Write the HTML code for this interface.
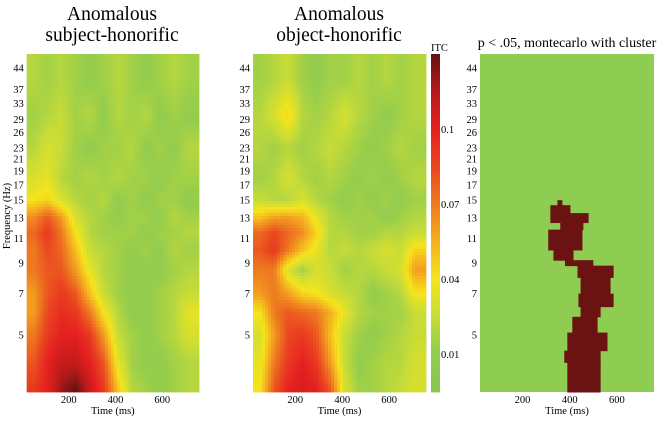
<!DOCTYPE html>
<html><head><meta charset="utf-8"><style>
html,body{margin:0;padding:0;background:#fff;}
svg{display:block;font-family:"Liberation Serif",serif;}
</style></head><body>
<svg id="chart" width="669" height="421" viewBox="0 0 669 421">
<text x="112" y="20" font-size="19.5" text-anchor="middle">Anomalous</text>
<text x="112" y="41" font-size="19.5" text-anchor="middle">subject-honorific</text>
<text x="339" y="20" font-size="19.5" text-anchor="middle">Anomalous</text>
<text x="339" y="41" font-size="19.5" text-anchor="middle">object-honorific</text>
<text x="567" y="47" font-size="14" text-anchor="middle">p &lt; .05, montecarlo with cluster</text>
<text x="431" y="51" font-size="10.5">ITC</text>
<text transform="translate(10,216) rotate(-90)" font-size="10.5" text-anchor="middle">Frequency (Hz)</text>
<g id="layer"></g>
</svg>
<script>
const timeCenters=[50,110,170,230,290,350,410,470,530,590,650,710];
const freqRows=[3.2,4,5,6,7,8.5,10,11.5,13,15,18,23,30,40];
const subjectITC=[
[0.09,0.10,0.12,0.13,0.11,0.09,0.05,0.02,0.015,0.01,0.015,0.02],
[0.08,0.10,0.11,0.11,0.10,0.08,0.035,0.015,0.01,0.01,0.015,0.02],
[0.07,0.09,0.10,0.10,0.09,0.06,0.025,0.015,0.01,0.015,0.02,0.03],
[0.06,0.085,0.095,0.09,0.07,0.04,0.02,0.01,0.01,0.015,0.02,0.035],
[0.06,0.08,0.09,0.08,0.05,0.025,0.015,0.01,0.01,0.015,0.02,0.025],
[0.07,0.08,0.08,0.06,0.035,0.02,0.015,0.01,0.01,0.01,0.015,0.02],
[0.07,0.085,0.075,0.05,0.025,0.02,0.015,0.01,0.015,0.01,0.02,0.015],
[0.075,0.09,0.07,0.04,0.02,0.015,0.015,0.015,0.01,0.015,0.015,0.02],
[0.065,0.08,0.06,0.03,0.02,0.015,0.01,0.015,0.015,0.01,0.02,0.015],
[0.04,0.045,0.03,0.02,0.015,0.02,0.01,0.015,0.01,0.015,0.015,0.01],
[0.03,0.035,0.02,0.015,0.02,0.015,0.02,0.015,0.015,0.01,0.015,0.015],
[0.02,0.03,0.025,0.015,0.01,0.015,0.015,0.02,0.01,0.015,0.01,0.02],
[0.015,0.02,0.025,0.015,0.02,0.01,0.02,0.015,0.02,0.01,0.015,0.01],
[0.02,0.015,0.02,0.015,0.01,0.015,0.02,0.015,0.01,0.015,0.02,0.015]];
const objectITC=[
[0.04,0.08,0.10,0.105,0.10,0.08,0.03,0.015,0.015,0.02,0.025,0.03],
[0.035,0.07,0.09,0.10,0.09,0.06,0.025,0.01,0.015,0.02,0.02,0.03],
[0.03,0.06,0.085,0.09,0.08,0.05,0.025,0.015,0.01,0.015,0.02,0.025],
[0.04,0.07,0.08,0.075,0.07,0.055,0.035,0.02,0.015,0.015,0.015,0.025],
[0.06,0.07,0.06,0.045,0.04,0.03,0.025,0.02,0.01,0.015,0.02,0.04],
[0.07,0.07,0.03,0.015,0.03,0.025,0.015,0.02,0.02,0.025,0.03,0.06],
[0.08,0.09,0.07,0.05,0.035,0.02,0.025,0.02,0.025,0.03,0.025,0.045],
[0.075,0.085,0.075,0.065,0.045,0.02,0.02,0.015,0.015,0.02,0.02,0.025],
[0.05,0.06,0.06,0.055,0.035,0.02,0.015,0.015,0.015,0.01,0.015,0.02],
[0.025,0.02,0.02,0.03,0.02,0.015,0.01,0.015,0.01,0.015,0.01,0.015],
[0.015,0.02,0.03,0.02,0.015,0.02,0.015,0.01,0.015,0.01,0.015,0.02],
[0.02,0.015,0.02,0.015,0.02,0.025,0.02,0.015,0.01,0.015,0.02,0.015],
[0.02,0.03,0.045,0.02,0.015,0.02,0.03,0.02,0.015,0.01,0.015,0.02],
[0.015,0.02,0.025,0.015,0.01,0.015,0.015,0.02,0.015,0.02,0.015,0.02]];
// cluster: [fLow,fHigh,tStart,tEnd]
const clusterBands=[[14.4,15.0,348,369],[13.5,14.4,318,403],[12.5,13.5,318,480],[11.8,12.5,360,458],[10.0,11.8,309,454],[9.2,10.0,331,416],[8.8,9.2,380,500],[8.0,8.8,433,586],[7.0,8.0,446,573],[6.3,7.0,437,586],[5.8,6.3,446,531],[5.1,5.8,411,518],[4.4,5.1,390,560],[4.0,4.4,377,531],[3.0,4.0,390,531]];
const yTicks=[5,7,9,11,13,15,17,19,21,23,26,29,33,37,44];
const xTicks=[200,400,600];
const cbTicks=[0.01,0.04,0.07,0.1];

const NS="http://www.w3.org/2000/svg";
const layer=document.getElementById('layer');
const top0=54,bot0=392,T0=20,T1=757,cmax=0.13;
const yOf=f=>335-122.7*Math.log(f/5);
const fOf=y=>5*Math.exp((335-y)/122.7);
const stops=[[0,[138,200,82]],[0.012,[150,205,76]],[0.025,[200,220,55]],[0.04,[245,228,28]],[0.055,[245,175,32]],[0.07,[238,122,32]],[0.085,[234,70,32]],[0.1,[228,32,32]],[0.115,[180,26,26]],[0.13,[100,18,18]]];
function col(v){v=Math.max(0,Math.min(cmax,v));for(let i=1;i<stops.length;i++){if(v<=stops[i][0]){const a=stops[i-1],b=stops[i],t=(v-a[0])/(b[0]-a[0]);return 'rgb('+a[1].map((c,k)=>Math.round(c+(b[1][k]-c)*t)).join(',')+')';}}return 'rgb(100,18,18)';}
function mk(tag,attrs,parent){const e=document.createElementNS(NS,tag);for(const k in attrs)e.setAttribute(k,attrs[k]);(parent||layer).appendChild(e);return e;}
function idx(arr,v){if(v<=arr[0])return [0,0,0];if(v>=arr[arr.length-1])return [arr.length-1,arr.length-1,0];for(let i=0;i<arr.length-1;i++)if(v<=arr[i+1])return [i,i+1,(v-arr[i])/(arr[i+1]-arr[i])];}
const logRows=freqRows.map(f=>Math.log(f));
function sample(data,t,f){const [c0,c1,tc]=idx(timeCenters,t);const [r0,r1,tr]=idx(logRows,Math.log(f));
const a=data[r0][c0]*(1-tc)+data[r0][c1]*tc,b=data[r1][c0]*(1-tc)+data[r1][c1]*tc;return a*(1-tr)+b*tr;}
function axes(L,R,g){
 const xOf=t=>L+(t-T0)/(T1-T0)*(R-L);
 yTicks.forEach(f=>{const y=yOf(f);
  const tx=mk('text',{x:L-3,y:y+3.5,'font-size':10.5,'text-anchor':'end'},g);tx.textContent=f;
  
  });
 xTicks.forEach(t=>{const tx=mk('text',{x:xOf(t),y:403,'font-size':10.5,'text-anchor':'middle'},g);tx.textContent=t;
  
  });
 const at=mk('text',{x:(L+R)/2,y:414,'font-size':10.5,'text-anchor':'middle'},g);at.textContent='Time (ms)';
 
 
 return xOf;}
function heat(L,R,data,name){
 const g=mk('g',{});
 
 
 const xOf=axes(L,R,g);const step=3;
 for(let y=top0;y<bot0;y+=step){for(let x=L;x<R;x+=step){
  const t=T0+(x+step/2-L)/(R-L)*(T1-T0),f=fOf(y+step/2);
  const r=mk('rect',{x:x,y:y,width:Math.min(step,R-x)+0.4,height:Math.min(step,bot0-y)+0.4,fill:col(sample(data,t,f))},g);
  
  }}
}
heat(26.7,199,subjectITC,'heatmap-subject');
heat(253,426,objectITC,'heatmap-object');
// colorbar
(function(){const g=mk('g',{});
 
 
 const cy=v=>354-(v-0.01)/0.03*75;
 for(let y=top0;y<bot0;y+=2){const v=(354-(y+1))/75*0.03+0.01;const r=mk('rect',{x:431,y:y,width:9,height:2.4,fill:col(v)},g);
  
  }
 cbTicks.forEach(v=>{const t=mk('text',{x:441,y:cy(v)+4,'font-size':10.5},g);t.textContent=v;
  
  });})();
// stats panel
(function(){const L=480,R=654;const g=mk('g',{});
 
 
 const bg=mk('rect',{x:L,y:top0,width:R-L,height:bot0-top0,fill:'rgb(142,205,82)'},g);
 
 
 const xOf=axes(L,R,g);
 clusterBands.forEach(b=>{const y1=Math.max(top0,yOf(b[1])),y2=Math.min(bot0,yOf(b[0]));
  const r=mk('rect',{x:xOf(b[2]),y:y1,width:xOf(b[3])-xOf(b[2]),height:y2-y1+0.5,fill:'#6b1313'},g);
  
  });})();
</script>
</body></html>
